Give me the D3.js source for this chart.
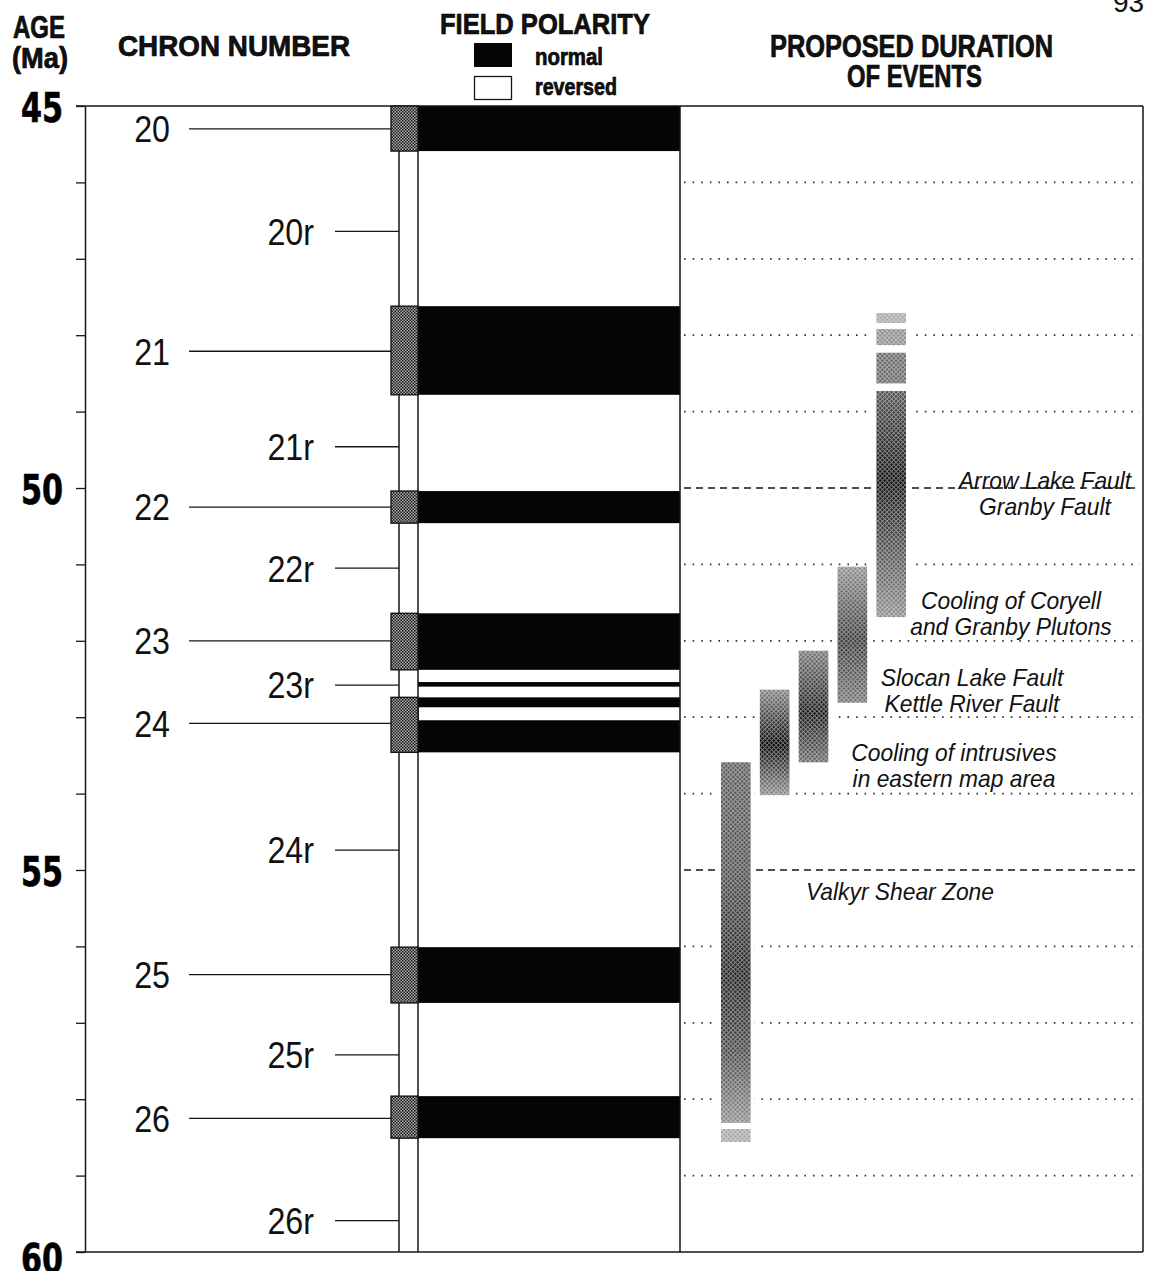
<!DOCTYPE html>
<html>
<head>
<meta charset="utf-8">
<script src="https://cdn.jsdelivr.net/npm/d3@7"></script>
<style>
  html, body { margin: 0; background: #fff; }
  svg { display: block; }
  text { font-family: "Liberation Sans", Arial, Helvetica, sans-serif; fill: #111; }
  .heavy { font-family: "DejaVu Sans", "Liberation Sans", sans-serif; font-weight: bold; fill: #000; stroke: #000; stroke-width: 0.7px; }
</style>
</head>
<body>
<svg id="chart" width="1149" height="1271"></svg>
<script>
// ages in Ma
const normalChrons = ['20', '21', '22', '23', '24', '25', '26'];
const normalLabelAge = [45.30, 48.21, 50.25, 52.00, 53.08, 56.37, 58.25];
const stippleTop = [45.00, 47.62, 50.04, 51.64, 52.74, 56.01, 57.96];
const stippleBase = [45.59, 48.78, 50.46, 52.38, 53.46, 56.74, 58.51];

const reversedChrons = ['20r', '21r', '22r', '23r', '24r', '25r', '26r'];
const reversedLabelAge = [46.64, 49.46, 51.05, 52.58, 54.74, 57.42, 59.59];

// black (normal polarity) bands
const normalBandTop = [45.00, 47.62, 50.04, 51.64, 52.54, 52.74, 53.04, 56.01, 57.96];
const normalBandBase = [45.59, 48.78, 50.46, 52.38, 52.60, 52.87, 53.46, 56.74, 58.51];

const ageLabels = [45, 50, 55, 60];
const dashedAges = [50, 55];

// events, left to right
const events = ['Valkyr', 'Intrusives', 'Slocan', 'Coryell', 'Arrow'];
const eventTop = [53.59, 52.64, 52.13, 51.03, 48.73];
const eventBase = [58.31, 54.02, 53.59, 52.81, 51.69];
// shading profile: [age, darkness 0..1]
const eventShade = [
  [[53.59, 0.65], [55.0, 0.7], [56.4, 0.88], [57.4, 0.72], [58.31, 0.45]],
  [[52.64, 0.5], [53.36, 1.0], [54.02, 0.45]],
  [[52.13, 0.55], [52.95, 0.92], [53.59, 0.6]],
  [[51.03, 0.45], [52.0, 0.8], [52.81, 0.55]],
  [[48.73, 0.7], [49.9, 0.95], [51.69, 0.45]]
];
// uncertain extensions: [top, base, darkness]
const eventFragments = [
  [[58.39, 58.56, 0.35]],
  [],
  [],
  [],
  [[47.71, 47.84, 0.35], [47.92, 48.13, 0.45], [48.23, 48.63, 0.6]]
];
const eventLabelLines = [
  ['Valkyr Shear Zone'],
  ['Cooling of intrusives', 'in eastern map area'],
  ['Slocan Lake Fault', 'Kettle River Fault'],
  ['Cooling of Coryell', 'and Granby Plutons'],
  ['Arrow Lake Fault', 'Granby Fault']
];
const eventLabelAge = [55.39, 53.57, 52.59, 51.59, 50.01];

// layout
const W = 1149, H = 1271;
const axisX = 85, narrowL = 399, wideL = 418, wideR = 680, panelR = 1143;
const stippleL = 391;
const labelCenters = [900, 954, 972, 1011, 1045];
const ink = '#161616';

const svg = d3.select('#chart').attr('viewBox', `0 0 ${W} ${H}`);
svg.append('rect').attr('width', W).attr('height', H).attr('fill', '#fff');

const y = d3.scaleLinear().domain([45, 60]).range([106, 1252]);
const xe = d3.scaleBand().domain(events).range([721, 906]).paddingInner(0.24).paddingOuter(0);

const condense = (sel, factor) => sel.each(function () {
  const w = this.getComputedTextLength();
  d3.select(this).attr('textLength', w * factor).attr('lengthAdjust', 'spacingAndGlyphs');
});

const defs = svg.append('defs');
const stip = defs.append('pattern').attr('id', 'stipple').attr('patternUnits', 'userSpaceOnUse')
  .attr('width', 3).attr('height', 3);
stip.append('rect').attr('width', 3).attr('height', 3).attr('fill', '#aaa');
stip.append('rect').attr('width', 1.5).attr('height', 1.5).attr('fill', '#1a1a1a');
stip.append('rect').attr('x', 1.5).attr('y', 1.5).attr('width', 1.5).attr('height', 1.5).attr('fill', '#1a1a1a');

const screen = defs.append('pattern').attr('id', 'screen').attr('patternUnits', 'userSpaceOnUse')
  .attr('width', 3.2).attr('height', 3.2).attr('patternTransform', 'rotate(45)');
screen.append('rect').attr('width', 3.2).attr('height', 1).attr('fill', '#fff');
screen.append('rect').attr('width', 1).attr('height', 3.2).attr('fill', '#fff');

const grey = (d) => d3.interpolateRgb('#fff', '#000')(d);

// grid lines in the events panel
svg.append('g').selectAll('line').data(y.ticks(15).filter((a) => a > 45 && a < 60)).join('line')
  .attr('x1', wideR + 4).attr('x2', panelR - 3)
  .attr('y1', (a) => y(a)).attr('y2', (a) => y(a))
  .attr('stroke', (a) => dashedAges.includes(a) ? ink : '#333')
  .attr('stroke-width', (a) => dashedAges.includes(a) ? 1.4 : 1.8)
  .attr('stroke-dasharray', (a) => dashedAges.includes(a) ? '7,5' : '1.6,7');

// polarity bands
svg.append('g').selectAll('rect').data(normalBandTop).join('rect')
  .attr('x', wideL).attr('width', wideR - wideL)
  .attr('y', (d) => y(d)).attr('height', (d, i) => y(normalBandBase[i]) - y(d))
  .attr('fill', '#050505');

// frame
const frame = svg.append('g').attr('stroke', ink).attr('fill', 'none');
frame.append('line').attr('x1', 76).attr('x2', panelR).attr('y1', y(45)).attr('y2', y(45)).attr('stroke-width', 1.6);
frame.append('line').attr('x1', 76).attr('x2', panelR).attr('y1', y(60)).attr('y2', y(60)).attr('stroke-width', 1.6);
[narrowL, wideL, wideR, panelR].forEach((x) => {
  frame.append('line').attr('x1', x).attr('x2', x).attr('y1', y(45)).attr('y2', y(60)).attr('stroke-width', 1.5);
});

// age axis
const axis = svg.append('g').attr('transform', `translate(${axisX},0)`)
  .call(d3.axisLeft(y).tickValues(d3.range(45, 61)).tickSize(9).tickSizeOuter(0).tickPadding(13)
    .tickFormat((a) => ageLabels.includes(a) ? a : ''));
axis.select('.domain').attr('stroke', ink).attr('stroke-width', 1.5);
axis.selectAll('.tick line').attr('stroke', ink).attr('stroke-width', 1.3);
axis.selectAll('.tick text').attr('class', 'heavy').attr('font-size', 41)
  .attr('font-family', null).attr('dy', (a) => a === 60 ? '0.5em' : '0.37em')
  .attr('textLength', (a) => ageLabels.includes(a) ? 42 : null).attr('lengthAdjust', 'spacingAndGlyphs');

// stipple boxes for normal chrons
svg.append('g').selectAll('rect').data(stippleTop).join('rect')
  .attr('x', stippleL).attr('width', wideL - stippleL)
  .attr('y', (d) => y(d)).attr('height', (d, i) => y(stippleBase[i]) - y(d))
  .attr('fill', 'url(#stipple)').attr('stroke', ink).attr('stroke-width', 1.4);

// chron labels with leader lines
const leaders = svg.append('g').attr('stroke', ink).attr('stroke-width', 1.3);
leaders.selectAll('.n').data(normalLabelAge).join('line').attr('class', 'n')
  .attr('x1', 189).attr('x2', stippleL).attr('y1', (a) => y(a)).attr('y2', (a) => y(a));
leaders.selectAll('.r').data(reversedLabelAge).join('line').attr('class', 'r')
  .attr('x1', 335).attr('x2', narrowL).attr('y1', (a) => y(a)).attr('y2', (a) => y(a));

const chronText = svg.append('g').attr('font-size', 37).attr('text-anchor', 'end');
chronText.selectAll('.n').data(normalChrons).join('text').attr('class', 'n')
  .attr('x', 170).attr('y', (d, i) => y(normalLabelAge[i])).attr('dy', '0.36em').text((d) => d);
chronText.selectAll('.r').data(reversedChrons).join('text').attr('class', 'r')
  .attr('x', 314).attr('y', (d, i) => y(reversedLabelAge[i])).attr('dy', '0.36em').text((d) => d);
condense(chronText.selectAll('text'), 0.87);

// event bars
const bars = svg.append('g');
events.forEach((ev, i) => {
  const top = eventTop[i], base = eventBase[i];
  const gid = `grad${i}`;
  const g = defs.append('linearGradient').attr('id', gid).attr('x1', 0).attr('x2', 0).attr('y1', 0).attr('y2', 1);
  g.selectAll('stop').data(eventShade[i]).join('stop')
    .attr('offset', (s) => (s[0] - top) / (base - top))
    .attr('stop-color', (s) => grey(s[1]));
  const x0 = xe(ev), bw = xe.bandwidth();
  const pieces = [[top, base, `url(#${gid})`]].concat(eventFragments[i].map((f) => [f[0], f[1], grey(f[2])]));
  pieces.forEach((p) => {
    bars.append('rect').attr('x', x0 - 4).attr('width', bw + 8).attr('y', y(p[0])).attr('height', y(p[1]) - y(p[0])).attr('fill', '#fff');
    bars.append('rect').attr('x', x0).attr('width', bw).attr('y', y(p[0])).attr('height', y(p[1]) - y(p[0])).attr('fill', p[2]);
    bars.append('rect').attr('x', x0).attr('width', bw).attr('y', y(p[0])).attr('height', y(p[1]) - y(p[0]))
      .attr('fill', 'url(#screen)').attr('opacity', 0.45);
  });
});

// event labels
const evText = svg.append('g').attr('font-size', 24).attr('font-style', 'italic').attr('text-anchor', 'middle');
eventLabelLines.forEach((lines, i) => {
  lines.forEach((line, k) => {
    evText.append('text').attr('x', labelCenters[i]).attr('y', y(eventLabelAge[i]) + k * 26).text(line);
  });
});
condense(evText.selectAll('text'), 0.95);

// headers
const head = svg.append('g').attr('class', 'heavy');
const header = (txt, x, yy, size, width, anchor) => head.append('text').attr('x', x).attr('y', yy)
  .attr('font-size', size).attr('text-anchor', anchor || 'start').attr('textLength', width)
  .attr('lengthAdjust', 'spacingAndGlyphs').text(txt);
header('AGE', 13, 38, 31, 52);
header('(Ma)', 12, 68, 30, 56);
header('CHRON NUMBER', 118, 56, 30, 232);
header('FIELD POLARITY', 440, 34, 30, 210);
header('PROPOSED DURATION', 770, 57, 32, 283);
header('OF EVENTS', 847, 87, 32, 135);
header('normal', 535, 65, 23, 68);
header('reversed', 535, 95, 23, 82);
svg.append('text').attr('x', 1113).attr('y', 12).attr('font-size', 28).text('93');

// legend boxes
svg.append('rect').attr('x', 474).attr('y', 43).attr('width', 38).attr('height', 24).attr('fill', '#050505');
svg.append('rect').attr('x', 474.5).attr('y', 76.5).attr('width', 37).attr('height', 23)
  .attr('fill', '#fff').attr('stroke', ink).attr('stroke-width', 1.3);
</script>
</body>
</html>
